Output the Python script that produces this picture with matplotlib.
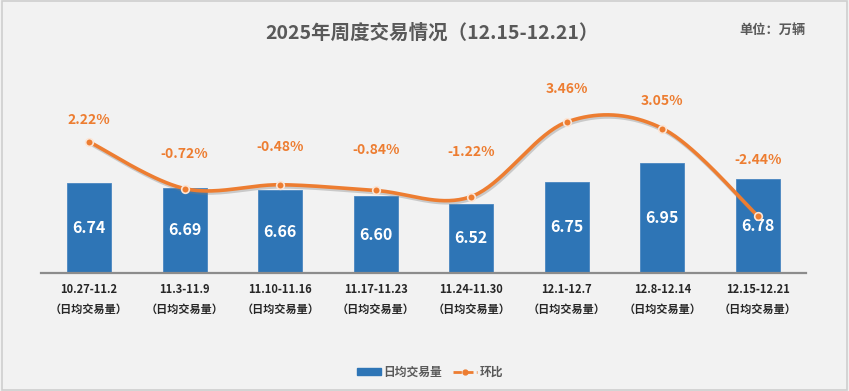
import numpy as np
import matplotlib
matplotlib.use("Agg")
import matplotlib.pyplot as plt
import matplotlib.patheffects as pe
from matplotlib.patches import Rectangle
from matplotlib.lines import Line2D
from matplotlib.patches import Patch

plt.rcParams['font.family'] = ['Noto Sans CJK SC', 'DejaVu Sans']

# ---- data ----
weeks = ["10.27-11.2", "11.3-11.9", "11.10-11.16", "11.17-11.23",
         "11.24-11.30", "12.1-12.7", "12.8-12.14", "12.15-12.21"]
daily_volume = [6.74, 6.69, 6.66, 6.60, 6.52, 6.75, 6.95, 6.78]
mom_change = [2.22, -0.72, -0.48, -0.84, -1.22, 3.46, 3.05, -2.44]
title_text = "2025年周度交易情况（12.15-12.21）"
unit_text = "单位：万辆"
sub_label = "（日均交易量）"
legend_bar = "日均交易量"
legend_line = "环比"

# label offsets above markers (points) - layout only
pct_label_offsets = [16, 25, 27, 29, 32, 24, 20, 40]

BLUE = "#2e75b6"
ORANGE = "#ed7d31"
BG = "#f2f2f2"
GRAY_TXT = "#595959"

fig = plt.figure(figsize=(8.49, 3.91), dpi=100, facecolor=BG)
fig.patches.append(Rectangle((0.002, 0.003), 0.996, 0.994, transform=fig.transFigure,
                             fill=False, edgecolor="#cfcfcf", linewidth=1.2))

W, H = 849, 391
left_px, right_px = 41.2, 805.8
top_px, bot_px = 80, 273
ax = fig.add_axes([left_px / W, (H - bot_px) / H, (right_px - left_px) / W, (bot_px - top_px) / H])
ax.set_facecolor("none")

x = np.arange(len(weeks))
bars = ax.bar(x, daily_volume, width=0.46, color=BLUE, edgecolor="#4a86c0", linewidth=0.6, zorder=2)
ax.set_xlim(-0.5, len(weeks) - 0.5)
ymin = 5.80
ax.set_ylim(ymin, ymin + (bot_px - top_px) / 96.0)
for xi, v in zip(x, daily_volume):
    ax.text(xi, (ymin + v) / 2, f"{v:.2f}", ha="center", va="center", color="white",
            fontsize=11.5, fontweight="bold", zorder=3)

for s in ["top", "right", "left"]:
    ax.spines[s].set_visible(False)
ax.spines["bottom"].set_color("#8c8c8c")
ax.spines["bottom"].set_linewidth(1.6)
ax.set_yticks([])
ax.set_xticks(x)
ax.set_xticklabels([f"{w}\n{sub_label}" for w in weeks], fontsize=8, fontweight="bold",
                   color="#262626", linespacing=1.75)
ax.tick_params(axis="x", length=0, pad=7)

# secondary axis for percentage
ax2 = ax.twinx()
zero_px = 177.1
slope = 15.93
ax2.set_ylim((zero_px - bot_px) / slope, (zero_px - top_px) / slope)
ax2.set_xlim(-0.5, len(weeks) - 0.5)
ax2.axis("off")

# Excel-like smooth curve (Catmull-Rom / Bezier) in display space
fig.canvas.draw()
pts = ax2.transData.transform(np.column_stack([x, mom_change]))
P = np.vstack([pts[0], pts, pts[-1]])
curve = []
t = np.linspace(0, 1, 40)
for i in range(1, len(P) - 2):
    p0, p1, p2, p3 = P[i - 1], P[i], P[i + 1], P[i + 2]
    c1 = p1 + (p2 - p0) / 6.0
    c2 = p2 - (p3 - p1) / 6.0
    seg = ((1 - t) ** 3)[:, None] * p1 + (3 * (1 - t) ** 2 * t)[:, None] * c1 \
        + (3 * (1 - t) * t ** 2)[:, None] * c2 + (t ** 3)[:, None] * p2
    curve.append(seg)
curve = np.vstack(curve)
curve_data = ax2.transData.inverted().transform(curve)
ax2.plot(curve_data[:, 0], curve_data[:, 1], color=ORANGE, linewidth=2.6, zorder=4,
         solid_capstyle="round",
         path_effects=[pe.SimpleLineShadow(offset=(0.8, -1.5), shadow_color="#7f7f7f", alpha=0.35),
                       pe.Normal()])
ax2.plot(x, mom_change, linestyle="none", marker="o", markersize=5.5, markerfacecolor=ORANGE,
         markeredgecolor="#fbe5d6", markeredgewidth=1.2, zorder=5)

for xi, v, off in zip(x, mom_change, pct_label_offsets):
    ax2.annotate(f"{v:.2f}%", (xi, v), xytext=(0, off), textcoords="offset points",
                 ha="center", va="center", color=ORANGE, fontsize=10, fontweight="bold", zorder=6)

# title and unit
fig.text(432 / W, 1 - 33 / H, title_text, ha="center", va="center", fontsize=14,
         fontweight="bold", color=GRAY_TXT)
fig.text(773 / W, 1 - 30 / H, unit_text, ha="center", va="center", fontsize=9.5,
         fontweight="bold", color=GRAY_TXT)

# legend
handles = [Patch(facecolor=BLUE, edgecolor=BLUE),
           Line2D([0], [0], color=ORANGE, linewidth=2, linestyle=(0, (3, 1.2)), marker="o",
                  markersize=3.5, markerfacecolor=ORANGE, markeredgecolor=ORANGE)]
leg = fig.legend(handles, [legend_bar, legend_line], loc="center", bbox_to_anchor=(430 / W, 1 - 372 / H),
                 ncol=2, frameon=False, fontsize=8.5, handlelength=2.0, handleheight=0.6,
                 columnspacing=0.9, handletextpad=0.25)
for txt in leg.get_texts():
    txt.set_color(GRAY_TXT)
    txt.set_fontweight("bold")

fig.savefig("out.png", dpi=100, facecolor=BG)
